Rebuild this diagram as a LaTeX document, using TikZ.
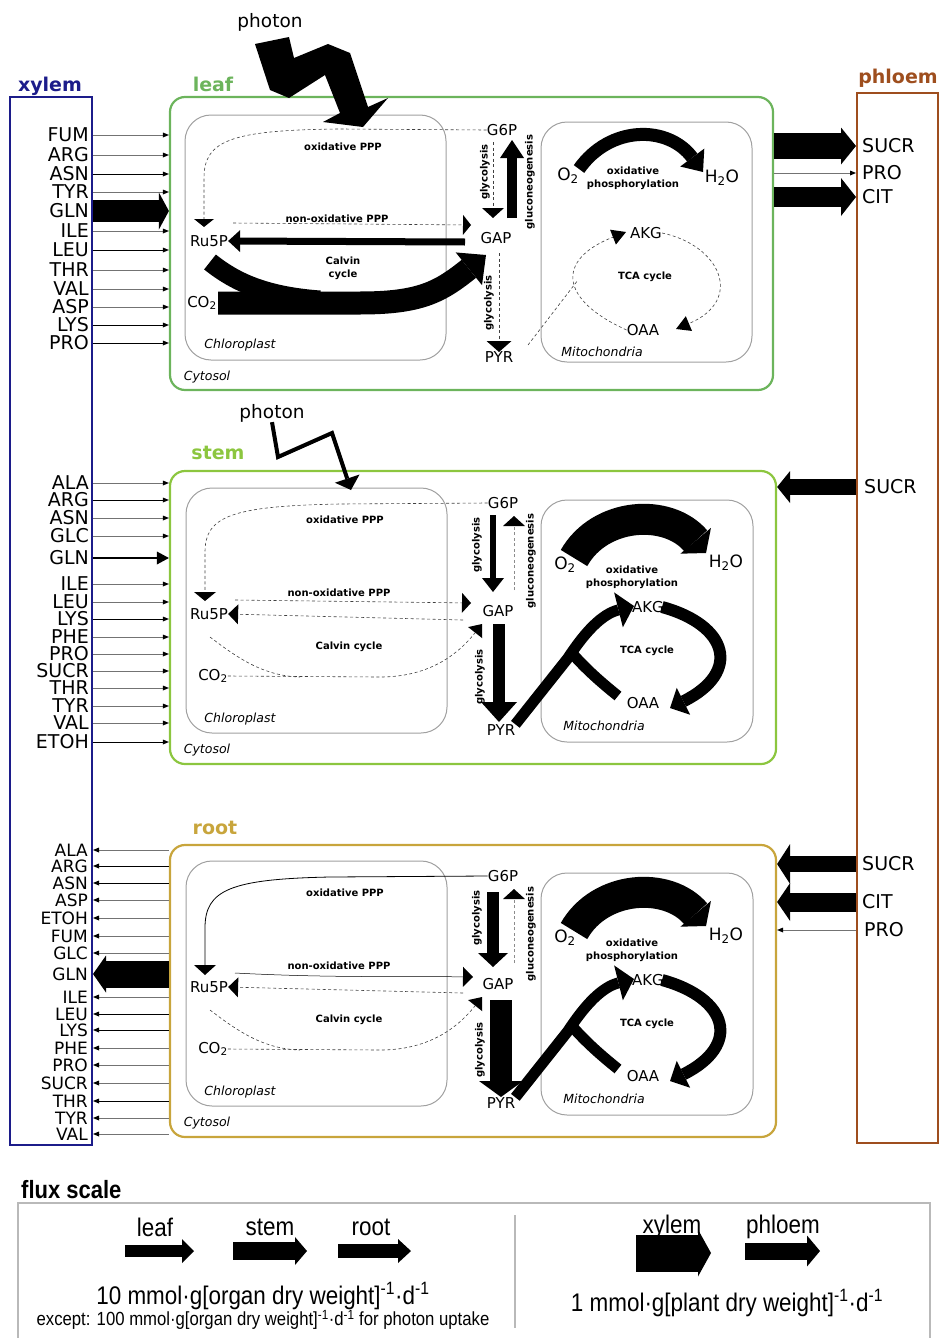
\documentclass[tikz,border=0pt]{standalone}
\usepackage{fontspec}
\setmainfont{DejaVu Sans}
\newfontfamily\legfont[FakeStretch=0.88]{Liberation Sans}
\usetikzlibrary{arrows.meta,calc}
\definecolor{xylemc}{RGB}{28,28,138}
\definecolor{phloemc}{RGB}{158,78,30}
\definecolor{leafc}{RGB}{108,180,92}
\definecolor{stemc}{RGB}{140,198,63}
\definecolor{rootc}{RGB}{200,165,60}
\definecolor{boxg}{RGB}{160,160,160}
\definecolor{legg}{RGB}{185,185,185}
\tikzset{
  lab/.style={font=\fontsize{19}{19}\selectfont, inner sep=0pt},
  labr/.style={font=\fontsize{17}{17}\selectfont, inner sep=0pt},
  met/.style={font=\fontsize{15}{15}\selectfont, inner sep=0pt},
  metb/.style={font=\fontsize{17}{17}\selectfont, inner sep=0pt},
  pw/.style={font=\bfseries\fontsize{10}{13}\selectfont, inner sep=0pt, align=center},
  comp/.style={font=\itshape\fontsize{12.5}{12.5}\selectfont, inner sep=0pt},
  org/.style={font=\bfseries\fontsize{19}{19}\selectfont, inner sep=0pt},
  phot/.style={font=\fontsize{18.5}{18.5}\selectfont, inner sep=0pt},
  organbox/.style={draw=#1, line width=2.2pt, rounded corners=15pt, inner sep=0pt},
  subbox/.style={draw=boxg, line width=1pt, rounded corners=26pt, inner sep=0pt},
  ah/.style 2 args={-{Triangle[length=#1,width=#2,line width=0pt,color=black]}},
  xa/.style={line width=0.5pt, draw=black!55, -{Triangle[length=6pt,width=5pt,line width=0pt,color=black]}},
  xd/.style={line width=0.9pt, draw=black, -{Triangle[length=6pt,width=5pt,line width=0pt]}},
  dsh/.style={line width=0.6pt, draw=black!75, dash pattern=on 3pt off 2.5pt},
  legt/.style={font=\legfont\fontsize{25.5}{25.5}\selectfont, inner sep=0pt},
}
\newcommand{\orgcommon}[2]{%
\begin{scope}[yshift=#2]
\node[subbox, minimum width=261pt, minimum height=245pt] (#1chl) at (316.5,610.5) {};
\node[subbox, minimum width=212pt, minimum height=242pt] (#1mit) at (647,621) {};
\node[comp] (#1chlT) at (240,719) {Chloroplast};
\node[comp] (#1cytT) at (207,750) {Cytosol};
\node[comp] (#1mitT) at (604,726) {Mitochondria};
\node[pw] (#1oxP) at (345,520) {oxidative PPP};
\node[pw] (#1noxP) at (339,593) {non-oxidative PPP};
\node[pw] (#1calv) at (349,647) {Calvin cycle};
\node[met] (#1Ru5P) at (209,614) {Ru5P};
\node[met] (#1CO2) at (213,676) {CO\textsubscript{2}};
\node[met] (#1G6P) at (503,503) {G6P};
\node[met] (#1GAP) at (498,611) {GAP};
\node[met] (#1PYR) at (501,730) {PYR};
\node[pw, rotate=90] (#1gly1) at (477,545) {glycolysis};
\node[pw, rotate=90] (#1glu) at (531,561) {gluconeogenesis};
\node[pw, rotate=90] (#1gly2) at (480,677) {glycolysis};
\node[metb] (#1O2) at (565,565) {O\textsubscript{2}};
\node[pw] (#1oxph) at (632,577) {oxidative\\phosphorylation};
\node[metb] (#1H2O) at (726,563) {H\textsubscript{2}O};
\node[met] (#1AKG) at (648,607) {AKG};
\node[pw] (#1TCA) at (647,651) {TCA cycle};
\node[met] (#1OAA) at (643,703) {OAA};
\draw[dsh, ah={10pt}{20pt}] (463,620) -- (#1Ru5P.east);
\draw[dsh] (210,637) .. controls (240,660) and (265,676) .. (300,677);
\draw[dsh, ah={11pt}{18pt}] (#1CO2.east) -- (380,677) .. controls (420,677) and (452,662) .. (482,624);
\draw[dsh, draw=black!45, ah={10pt}{22pt}] (514,590) -- (514,516);
\draw[line width=31pt, ah={16pt}{40pt}] (574,558) .. controls (600,512) and (668,508) .. (706,553);
\draw[line width=11pt, ah={16pt}{36pt}] (#1PYR.north east) -- (568,658) .. controls (585,632) and (602,614) .. (634,606);
\draw[line width=11pt] (618,696) .. controls (598,680) and (583,666) .. (571,652);
\draw[line width=12pt, ah={15pt}{30pt}] (662,607) .. controls (728,625) and (742,672) .. (670,708);
\end{scope}}
\begin{document}
\begin{tikzpicture}[x=1pt,y=-1pt]
\useasboundingbox (0,0) rectangle (941,1338);
% vascular tissues
\node[draw=xylemc, line width=2pt, minimum width=82pt, minimum height=1048pt, inner sep=0pt] (xylem) at (51,621) {};
\node[org, text=xylemc] (xylemT) at (50,86) {xylem};
\node[draw=phloemc, line width=2pt, minimum width=81pt, minimum height=1050pt, inner sep=0pt] (phloem) at (897.5,618) {};
\node[org, text=phloemc] (phloemT) at (898,78) {phloem};

% ================= LEAF =================
\node[organbox=leafc, minimum width=603pt, minimum height=293pt] (leaf) at (471.5,243.5) {};
\node[org, text=leafc] (leafT) at (213,84) {leaf};
\node[subbox, minimum width=261pt, minimum height=245pt] (Lchl) at (315.5,237.5) {};
\node[subbox, minimum width=211pt, minimum height=240pt] (Lmit) at (646.5,242) {};
\node[comp] (LchlT) at (240,345) {Chloroplast};
\node[comp] (LcytT) at (207,377) {Cytosol};
\node[comp] (LmitT) at (602,352) {Mitochondria};
\node[pw] (LoxP) at (343,147) {oxidative PPP};
\node[pw] (LnoxP) at (337,219) {non-oxidative PPP};
\node[pw] (Lcalv) at (343,268) {Calvin\\cycle};
\node[met] (LRu5P) at (209,241) {Ru5P};
\node[met] (LCO2) at (202,303) {CO\textsubscript{2}};
\node[met] (LG6P) at (502,130) {G6P};
\node[met] (LGAP) at (496,238) {GAP};
\node[met] (LPYR) at (499,357) {PYR};
\node[pw, rotate=90] (Lgly1) at (485,172) {glycolysis};
\node[pw, rotate=90] (Lglu) at (530,182) {gluconeogenesis};
\node[pw, rotate=90] (Lgly2) at (489,303) {glycolysis};
\node[metb] (LO2) at (568,176) {O\textsubscript{2}};
\node[pw] (Loxph) at (633,178) {oxidative\\phosphorylation};
\node[metb] (LH2O) at (722,178) {H\textsubscript{2}O};
\node[met] (LAKG) at (646,233) {AKG};
\node[pw] (LTCA) at (645,277) {TCA cycle};
\node[met] (LOAA) at (643,330) {OAA};
\node[phot] (Lphot) at (270,22) {photon};
% photon uptake
\fill (255,44) -- (289,37) -- (294,58) -- (328,44) -- (350,53) -- (368,107) -- (388,98) -- (363,127) -- (323,122) -- (340,113) -- (325,75) -- (289,98) -- (270,90) -- cycle;
% PPP and Calvin
\draw[dsh, ah={8pt}{20pt}] (LG6P.west) -- (340,129) .. controls (232,130) and (204,140) .. (204,178) -- (204,227);
\draw[dsh, ah={8pt}{20pt}] (233,223) -- (471,225);
\draw[line width=7pt, ah={12pt}{22pt}] (465,242) -- (LRu5P.east);
\draw[line width=23pt, ah={22pt}{42pt}] (218,303) -- (360,303) .. controls (420,303) and (440,292) .. (486,255);
\draw[line width=19pt] (210,262) .. controls (235,282) and (265,296) .. (320,300);
% glycolysis
\draw[dsh, ah={10pt}{22pt}] (493,142) -- (493,218);
\draw[line width=10pt, ah={18pt}{24pt}] (512,218) -- (512,140);
\draw[dsh, ah={11pt}{25pt}] (499,253) -- (499,352);
% mitochondria
\draw[line width=13pt, ah={18pt}{30pt}] (579,169) .. controls (610,125) and (668,125) .. (703,172);
\draw[dsh, ah={14pt}{16pt}] (LAKG.east) .. controls (720,245) and (745,300) .. (676,329);
\draw[dsh, ah={14pt}{16pt}] (LOAA.west) .. controls (560,300) and (555,260) .. (626,232);
\draw[dsh] (528,345) -- (578,280);
% xylem -> leaf
\foreach \n/\y in {FUM/135,ARG/155,TYR/192,ILE/231,THR/270,VAL/289,ASP/307}{
  \node[lab, anchor=east] (Lx\n) at (89,\y) {\n};
  \draw[xa] (xylem.east |- Lx\n.east) -- (leaf.west |- Lx\n.east);}
\foreach \n/\y in {ASN/174,LEU/250,LYS/325,PRO/343}{
  \node[lab, anchor=east] (Lx\n) at (89,\y) {\n};
  \draw[xd] (xylem.east |- Lx\n.east) -- (leaf.west |- Lx\n.east);}
\node[lab, anchor=east] (LxGLN) at (89,211) {GLN};
\draw[line width=22pt, ah={10pt}{37pt}] (xylem.east |- LxGLN.east) -- (leaf.west |- LxGLN.east);
% leaf -> phloem
\node[lab, anchor=west] (LpSUCR) at (862,146) {SUCR};
\node[lab, anchor=west] (LpPRO) at (862,173) {PRO};
\node[lab, anchor=west] (LpCIT) at (862,197) {CIT};
\draw[line width=26pt, ah={15pt}{37pt}] (leaf.east |- LpSUCR.west) -- (phloem.west |- LpSUCR.west);
\draw[xa] (leaf.east |- LpPRO.west) -- (phloem.west |- LpPRO.west);
\draw[line width=20pt, ah={15pt}{38pt}] (leaf.east |- LpCIT.west) -- (phloem.west |- LpCIT.west);

% ================= STEM =================
\node[organbox=stemc, minimum width=606pt, minimum height=293pt] (stem) at (473,617.5) {};
\node[org, text=stemc] (stemT) at (218,453) {stem};
\orgcommon{S}{0pt}
\node[phot] (Sphot) at (272,413) {photon};
\draw[line width=4pt, ah={12pt}{26pt}] (Sphot.south) -- (278,457) -- (332,433) -- (351,490);
\draw[dsh, ah={9pt}{22pt}] (SG6P.west) -- (340,504) .. controls (232,506) and (205,516) .. (205,552) -- (205,601);
\draw[dsh, ah={9pt}{20pt}] (235,600) -- (471,603);
\draw[line width=5.5pt, ah={14pt}{22pt}] (493,515) -- (493,592);
\draw[line width=12pt, ah={20pt}{36pt}] (499,624) -- (499,722);
\foreach \n/\y in {ALA/483,ASN/518,GLC/536,ILE/584,LEU/602,PHE/637,PRO/654,SUCR/671,THR/688,TYR/706,VAL/723}{
  \node[lab, anchor=east] (Sx\n) at (89,\y) {\n};
  \draw[xa] (xylem.east |- Sx\n.east) -- (stem.west |- Sx\n.east);}
\foreach \n/\y in {ARG/500,LYS/619,ETOH/742}{
  \node[lab, anchor=east] (Sx\n) at (89,\y) {\n};
  \draw[xd] (xylem.east |- Sx\n.east) -- (stem.west |- Sx\n.east);}
\node[lab, anchor=east] (SxGLN) at (89,558) {GLN};
\draw[line width=1.6pt, ah={12pt}{13pt}] (xylem.east |- SxGLN.east) -- (stem.west |- SxGLN.east);
\node[lab, anchor=west] (SpSUCR) at (864,487) {SUCR};
\draw[line width=16pt, ah={13pt}{32pt}] (phloem.west |- SpSUCR.west) -- (stem.east |- SpSUCR.west);

% ================= ROOT =================
\node[organbox=rootc, minimum width=606pt, minimum height=292pt] (root) at (473,991) {};
\node[org, text=rootc] (rootT) at (215,828) {root};
\orgcommon{R}{-373pt}
\draw[line width=0.8pt, ah={10pt}{22pt}] (RG6P.west) -- (330,877) .. controls (230,879) and (205,890) .. (205,928) -- (205,975);
\draw[line width=0.5pt, ah={10pt}{20pt}] (235,973) .. controls (330,978) and (400,976) .. (473,977);
\draw[line width=12pt, ah={14pt}{30pt}] (493,892) -- (493,967);
\draw[line width=22pt, ah={16pt}{44pt}] (501,1000) -- (501,1097);
\foreach \n/\y in {ALA/850,ASP/900,ETOH/918,FUM/936,GLC/953,ILE/997,PHE/1048,PRO/1065,SUCR/1083,TYR/1118,VAL/1134}{
  \node[labr, anchor=east] (Rx\n) at (88,\y) {\n};
  \draw[xa] (root.west |- Rx\n.east) -- (xylem.east |- Rx\n.east);}
\foreach \n/\y in {ARG/866,ASN/883,LEU/1014,LYS/1030,THR/1101}{
  \node[labr, anchor=east] (Rx\n) at (88,\y) {\n};
  \draw[xd] (root.west |- Rx\n.east) -- (xylem.east |- Rx\n.east);}
\node[labr, anchor=east] (RxGLN) at (88,974) {GLN};
\draw[line width=27pt, ah={13pt}{37pt}] (root.west |- RxGLN.east) -- (xylem.east |- RxGLN.east);
\node[lab, anchor=west] (RpSUCR) at (862,864) {SUCR};
\node[lab, anchor=west] (RpCIT) at (862,902) {CIT};
\node[lab, anchor=west] (RpPRO) at (864,930) {PRO};
\draw[line width=16pt, ah={13pt}{40pt}] (phloem.west |- RpSUCR.west) -- (root.east |- RpSUCR.west);
\draw[line width=19pt, ah={13pt}{38pt}] (phloem.west |- RpCIT.west) -- (root.east |- RpCIT.west);
\draw[xa] (phloem.west |- RpPRO.west) -- (root.east |- RpPRO.west);

% ================= LEGEND =================
\node[font=\legfont\bfseries\fontsize{25}{25}\selectfont, anchor=west, inner sep=0pt] (flux) at (21,1190) {flux scale};
\draw[legg, line width=2pt] (18,1338) -- (18,1203) -- (930,1203) -- (930,1338);
\draw[legg, line width=1.5pt] (515,1215) -- (515,1328);
\node[legt] (lgleaf) at (155,1227) {leaf};
\node[legt] (lgstem) at (270,1227) {stem};
\node[legt] (lgroot) at (371,1227) {root};
\node[legt] (lgxyl) at (672,1227) {xylem};
\node[legt] (lgphl) at (783,1227) {phloem};
\draw[line width=12pt, ah={12pt}{24pt}] ($(lgleaf)+(-30,24)$) -- ($(lgleaf)+(39,24)$);
\draw[line width=18pt, ah={12pt}{28pt}] ($(lgstem)+(-37,24)$) -- ($(lgstem)+(37,24)$);
\draw[line width=14pt, ah={13pt}{24pt}] ($(lgroot)+(-33,24)$) -- ($(lgroot)+(40,24)$);
\draw[line width=37pt, ah={13pt}{47pt}] ($(lgxyl)+(-36,26)$) -- ($(lgxyl)+(39,26)$);
\draw[line width=17pt, ah={13pt}{31pt}] ($(lgphl)+(-38,24)$) -- ($(lgphl)+(37,24)$);
\node[legt] (lg1) at (263,1296) {10 mmol·g[organ dry weight]\textsuperscript{-1}·d\textsuperscript{-1}};
\node[legt, font=\legfont\fontsize{19}{19}\selectfont] (lg2) at (263,1320) {except: 100 mmol·g[organ dry weight]\textsuperscript{-1}·d\textsuperscript{-1} for photon uptake};
\node[legt] (lg3) at (727,1303) {1 mmol·g[plant dry weight]\textsuperscript{-1}·d\textsuperscript{-1}};
\end{tikzpicture}
\end{document}
